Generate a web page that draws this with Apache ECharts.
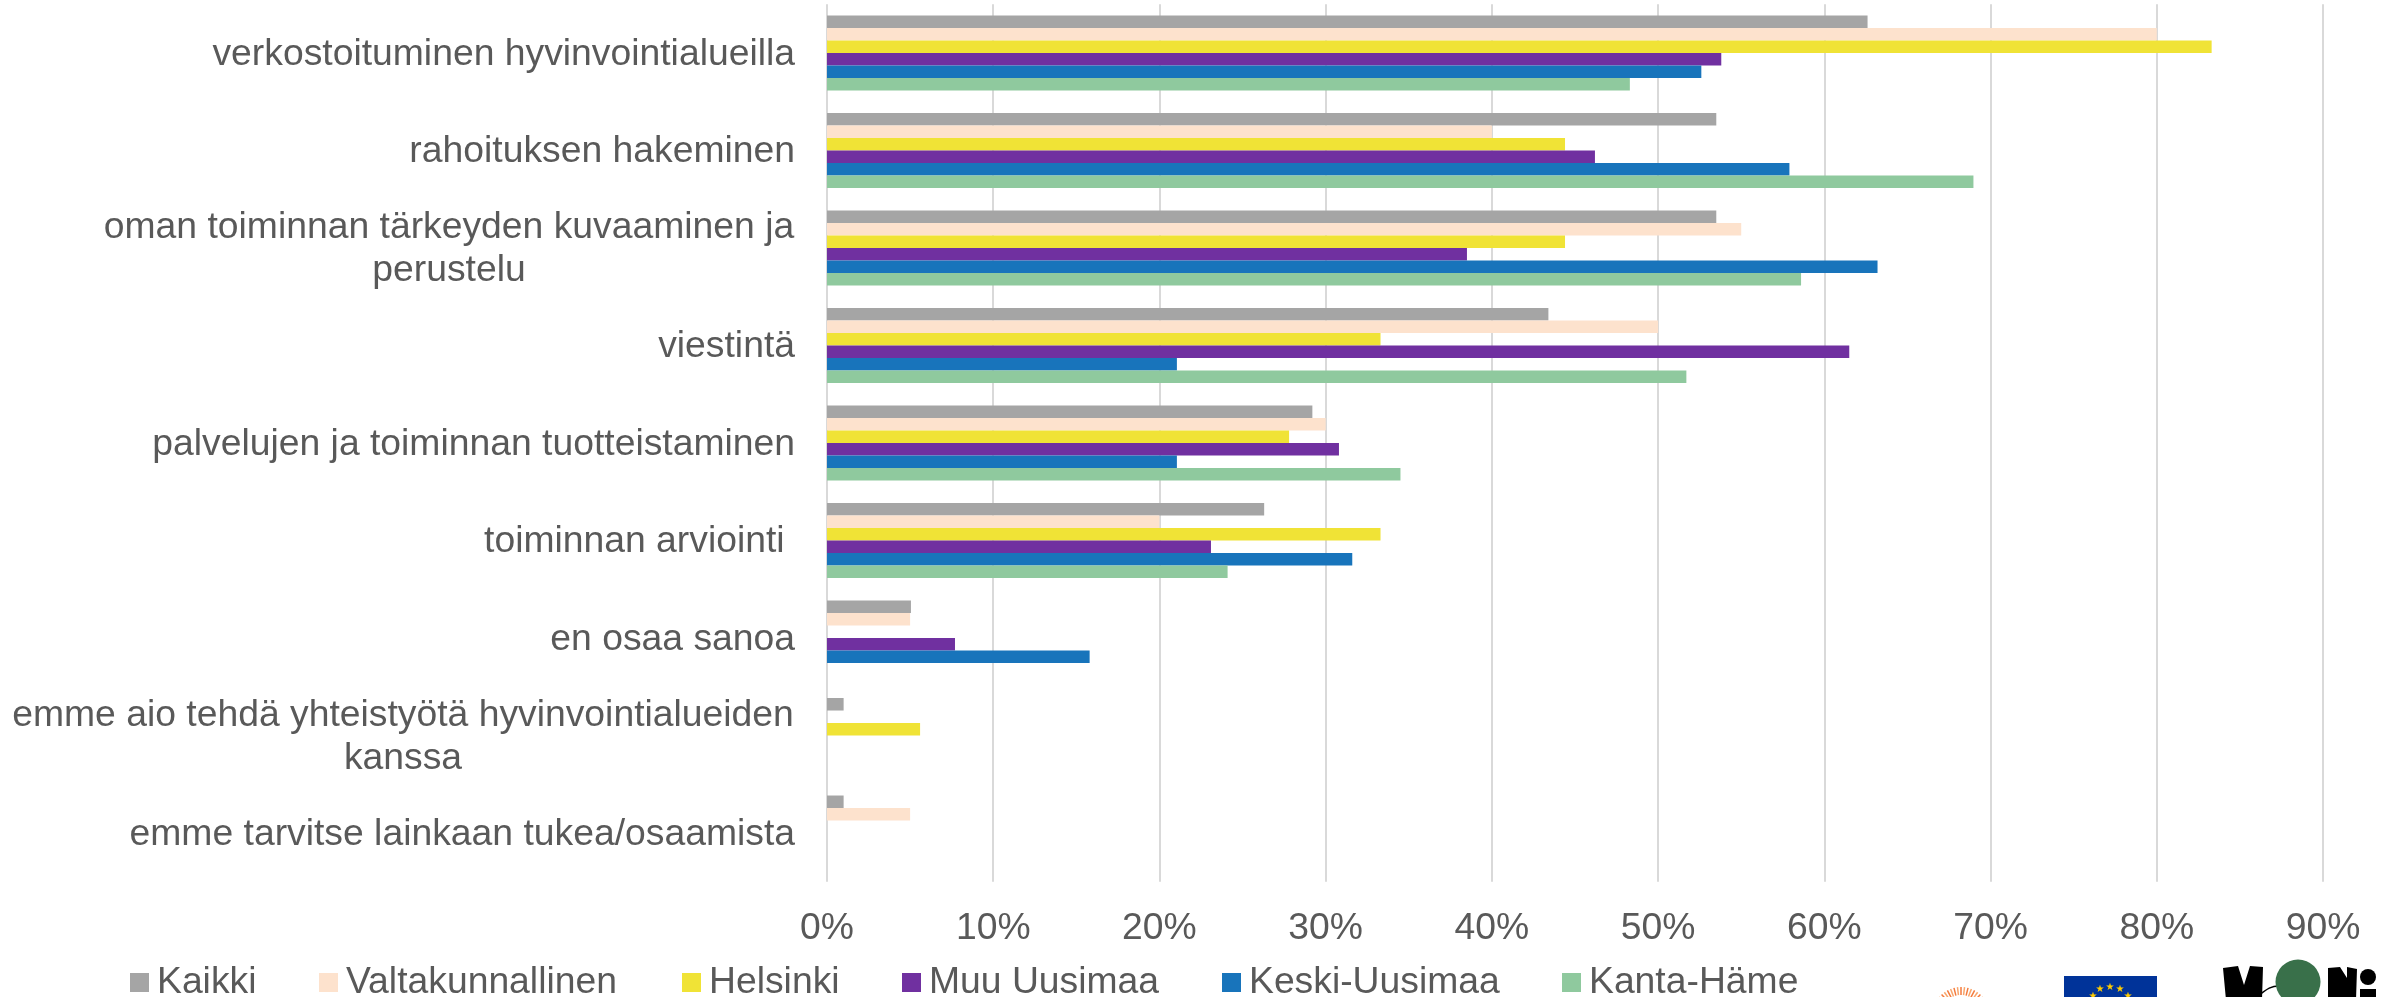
<!DOCTYPE html>
<html><head><meta charset="utf-8">
<style>html,body{margin:0;padding:0;background:#fff}#c{width:2392px;height:997px}</style>
<script src="https://cdn.jsdelivr.net/npm/echarts@6/dist/echarts.min.js"></script>
</head><body><div id="c"></div>
<script>
const categories = [
  "verkostoituminen hyvinvointialueilla",
  "rahoituksen hakeminen",
  "oman toiminnan tärkeyden kuvaaminen ja\nperustelu",
  "viestintä",
  "palvelujen ja toiminnan tuotteistaminen",
  "toiminnan arviointi\u00a0",
  "en osaa sanoa",
  "emme aio tehdä yhteistyötä hyvinvointialueiden\nkanssa",
  "emme tarvitse lainkaan tukea/osaamista"
];
const kaikki = [62.6, 53.5, 53.5, 43.4, 29.2, 26.3, 5.05, 1.0, 1.0];
const valtakunnallinen = [80, 40, 55, 50, 30, 20, 5, 0, 5];
const helsinki = [83.3, 44.4, 44.4, 33.3, 27.8, 33.3, 0, 5.6, 0];
const muuUusimaa = [53.8, 46.2, 38.5, 61.5, 30.8, 23.1, 7.7, 0, 0];
const keskiUusimaa = [52.6, 57.9, 63.2, 21.05, 21.05, 31.6, 15.8, 0, 0];
const kantaHame = [48.3, 68.97, 58.6, 51.7, 34.5, 24.1, 0, 0, 0];
const seriesNames = ["Kaikki","Valtakunnallinen","Helsinki","Muu Uusimaa","Keski-Uusimaa","Kanta-Häme"];
const seriesValues = [kaikki, valtakunnallinen, helsinki, muuUusimaa, keskiUusimaa, kantaHame];
const colors = ["#a5a5a5","#fde2cd","#f0e336","#7030a0","#1874bb","#8fc99e"];
const legendLeft = [130, 319, 682, 902, 1222, 1562];
const font = '"Liberation Sans", Arial, sans-serif';
const textColor = "#595959";
const fs = 37.3;
const sunRays = [];
for (let a = -49; a <= 49; a += 7) {
  const r = a * Math.PI / 180;
  sunRays.push({type:'line', silent:true,
    shape:{x1:1961+21*Math.sin(r), y1:1016-21*Math.cos(r), x2:1961+29*Math.sin(r), y2:1016-29*Math.cos(r)},
    style:{stroke:Math.abs(a)%14===0?'#f47a3c':'#f9a66c', lineWidth:1.5}});
}
const euStars = [[2100,989],[2110,987],[2120,989],[2093,996],[2128,996]].map(p=>({
  type:'text', silent:true, x:p[0], y:p[1],
  style:{text:'★', fill:'#ffcc00', fontSize:10, align:'center', verticalAlign:'middle', fontFamily:'DejaVu Sans'}}));
const chart = echarts.init(document.getElementById('c'), null, {renderer:'canvas'});
chart.setOption({
  animation:false,
  backgroundColor:'#fff',
  grid:{left:827, top:4.3, width:1496, height:877.5, containLabel:false},
  xAxis:{type:'value', min:0, max:90, interval:10,
    axisLine:{show:false}, axisTick:{show:false},
    splitLine:{show:true, lineStyle:{color:'#d9d9d9', width:2}},
    axisLabel:{formatter:'{value}%', color:textColor, fontFamily:font, fontSize:fs, margin:28}},
  yAxis:{type:'category', data:categories, inverse:true,
    axisLine:{show:false}, axisTick:{show:false},
    splitLine:{show:false},
    axisLabel:{color:textColor, fontFamily:font, fontSize:fs, margin:32, lineHeight:43, interval:0, align:'right',
      padding:[3,0,0,0],
      formatter:(v)=>{
        const parts = v.split('\n');
        if (parts.length < 2) return v;
        const tag = v.startsWith('oman') ? 'm' : 'e';
        return parts.map(p=>'{'+tag+'|'+p+'}').join('\n');
      },
      rich:{
        m:{width:692, align:'center', fontFamily:font, fontSize:fs, color:textColor, lineHeight:43},
        e:{width:784, align:'center', fontFamily:font, fontSize:fs, color:textColor, lineHeight:43}
      }}},
  legend: seriesNames.map((n,i)=>({data:[n], left:legendLeft[i], top:964, itemWidth:19, itemHeight:19, itemGap:0,
    icon:'rect', padding:0, textStyle:{color:textColor, fontFamily:font, fontSize:fs, padding:[0,0,0,3]}})),
  series: seriesNames.map((n,i)=>({name:n, type:'bar', data:seriesValues[i], barGap:'0%', barCategoryGap:'23%',
    itemStyle:{color:colors[i]}})),
  graphic:[
    ...sunRays,
    {type:'rect', silent:true, shape:{x:2064,y:976,width:93,height:30}, style:{fill:'#003399'}},
    ...euStars,
    {type:'polygon', silent:true, shape:{points:[[2223,968],[2238,966],[2244,985],[2250,966],[2263,967],[2262,1000],[2226,1000]]}, style:{fill:'#000'}},
    {type:'bezierCurve', silent:true, shape:{x1:2258,y1:996,cpx1:2266,cpy1:990,cpx2:2270,cpy2:986,x2:2279,y2:986}, style:{stroke:'#000',lineWidth:1.5,fill:'none'}},
    {type:'circle', silent:true, shape:{cx:2298,cy:982,r:22.5}, style:{fill:'#39704a'}},
    {type:'polygon', silent:true, shape:{points:[[2328,968],[2340,967],[2347,978],[2347,967],[2357,969],[2356,1000],[2328,1000]]}, style:{fill:'#000'}},
    {type:'circle', silent:true, shape:{cx:2368,cy:977,r:8}, style:{fill:'#000'}},
    {type:'rect', silent:true, shape:{x:2360,y:989,width:16,height:10}, style:{fill:'#000'}}
  ]
});
</script></body></html>
